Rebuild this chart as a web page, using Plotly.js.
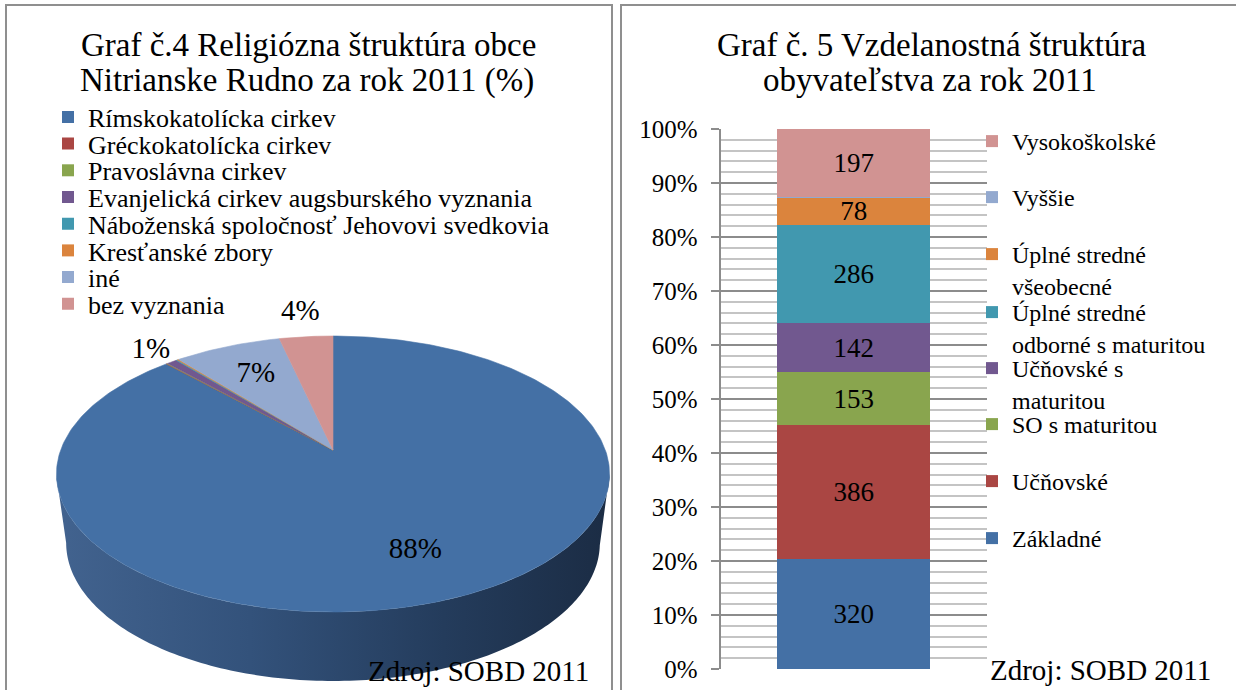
<!DOCTYPE html>
<html><head><meta charset="utf-8">
<script src="https://cdn.plot.ly/plotly-3.0.1.min.js"></script>
<style>
html,body{margin:0;padding:0;background:#fff;overflow:hidden}
#wrap{position:relative;width:1236px;height:690px}
#chart{width:1236px;height:690px}
.frame{position:absolute;box-sizing:border-box;border:2px solid #8f8f8f;border-bottom:none;pointer-events:none}
#frameL{left:5px;top:4px;width:608px;height:686px}
#frameR{left:620px;top:4px;width:616px;height:686px;border-right:none}
</style>
</head><body><div id="wrap"><div id="chart"></div><div class="frame" id="frameL"></div><div class="frame" id="frameR"></div></div>
<script>
// ---------- DATA: Graf č.4 (religious structure, %) ----------
const religionLabels = ['Rímskokatolícka cirkev', 'Gréckokatolícka cirkev', 'Pravoslávna cirkev',
  'Evanjelická cirkev augsburského vyznania', 'Náboženská spoločnosť Jehovovi svedkovia',
  'Kresťanské zbory', 'iné', 'bez vyznania'];
const religionShares = [87.9, 0.05, 0.05, 0.7, 0.1, 0.1, 7.4, 3.7];

// ---------- DATA: Graf č.5 (education structure, persons) ----------
const eduLabels = ['Základné', 'Učňovské', 'SO s maturitou', 'Učňovské s<br>maturitou',
  'Úplné stredné<br>odborné s maturitou', 'Úplné stredné<br>všeobecné', 'Vyššie', 'Vysokoškolské'];
const eduCounts = [320, 386, 153, 142, 286, 78, 2, 197];
const eduLabelShown = [true, true, true, true, true, true, false, true];
const pctTicks = [0, 10, 20, 30, 40, 50, 60, 70, 80, 90, 100];

// ---------- STYLE ----------
const W = 1236, H = 690;
const SERIF = 'Liberation Serif';
const palette = ['#4470A5', '#AA4643', '#89A54E', '#71588F', '#4198AF', '#DB843D', '#93A9CF', '#D19392'];
const PIE = {cx: 333, cy: 450, a: 272.3, b: 133.8, k: 0.174, depth: 69, bottomScale: 0.965};
const pieLabelRadius = [0.72, 1.2, 1.2, 1.15, 1.2, 1.2, 0.7, 1.26];
const leftLegendY = [116.5, 143.2, 169.9, 196.6, 223.3, 250, 276.7, 303.4];  // by religion index
const rightLegendY = [538, 481, 424, 368, 312, 254, 197, 141];               // by education index
const px = v => v / W, py = v => 1 - v / H;

function proj(thetaDeg, r, face) {
  const t = thetaDeg * Math.PI / 180;
  const u = r * Math.sin(t), v = r * Math.cos(t), w = 1 + PIE.k * v;
  let x = PIE.cx + PIE.a * u / w, y = PIE.cy - PIE.b * v / w;
  if (face === 'bottom') { x = PIE.cx + (x - PIE.cx) * PIE.bottomScale; y += PIE.depth; }
  return [x, y];
}

const traces = [];

// side band of the 3D pie (front half)
(function () {
  const th0 = Math.acos(-PIE.k) * 180 / Math.PI, th1 = 360 - th0;
  const xs = [], ys = [];
  for (let t = th0; t <= th1 + 1e-9; t += 1) { const p = proj(t, 1, 'top'); xs.push(p[0]); ys.push(p[1]); }
  for (let t = th1; t >= th0 - 1e-9; t -= 1) { const p = proj(t, 1, 'bottom'); xs.push(p[0]); ys.push(p[1]); }
  traces.push({type: 'scatter', x: xs, y: ys, xaxis: 'x2', yaxis: 'y2', mode: 'none', fill: 'toself',
    fillgradient: {type: 'horizontal', colorscale: [[0, '#42638f'], [0.35, '#33527b'], [0.7, '#243c5c'], [1, '#1b2c44']]},
    hoverinfo: 'skip', showlegend: false});
})();

// top faces of slices
const shareTotal = religionShares.reduce((s, v) => s + v, 0);
const labelX = [], labelY = [], labelT = [];
let angle = 0;
religionShares.forEach((v, i) => {
  const span = v / shareTotal * 360, a0 = angle, a1 = angle + span;
  const n = Math.max(2, Math.ceil(span));
  const xs = [PIE.cx], ys = [PIE.cy];
  for (let j = 0; j <= n; j++) { const p = proj(a0 + span * j / n, 1, 'top'); xs.push(p[0]); ys.push(p[1]); }
  xs.push(PIE.cx); ys.push(PIE.cy);
  traces.push({type: 'scatter', x: xs, y: ys, xaxis: 'x2', yaxis: 'y2', mode: 'lines', fill: 'toself',
    fillcolor: palette[i], line: {color: palette[i], width: 0.6}, hoverinfo: 'skip', showlegend: false});
  const pct = Math.round(v / shareTotal * 100);
  if (pct >= 1) {
    const p = proj((a0 + a1) / 2, pieLabelRadius[i], 'top');
    labelX.push(p[0]); labelY.push(p[1]); labelT.push(pct + '%');
  }
  angle = a1;
});
traces.push({type: 'scatter', x: labelX, y: labelY, text: labelT, mode: 'text', xaxis: 'x2', yaxis: 'y2',
  textfont: {family: SERIF, size: 29, color: '#000'}, hoverinfo: 'skip', showlegend: false});

// pie legend entries
const legends = {};
religionLabels.forEach((name, i) => {
  const key = i === 0 ? 'legend' : 'legend' + (i + 1);
  traces.push({type: 'bar', x: [null], y: [null], xaxis: 'x2', yaxis: 'y2', name: name,
    marker: {color: palette[i]}, legend: key, hoverinfo: 'skip'});
  legends[key] = {x: px(48), y: py(leftLegendY[i] - 23), xanchor: 'left', yanchor: 'top',
    bgcolor: 'rgba(0,0,0,0)', borderwidth: 0, valign: 'top', font: {family: SERIF, size: 26, color: '#000'}};
});

// stacked 100% bar
eduLabels.forEach((name, i) => {
  const key = 'legend' + (9 + i);
  traces.push({type: 'bar', x: [0], y: [eduCounts[i]], width: [0.575], name: name,
    marker: {color: palette[i], line: {width: 0}},
    text: [eduLabelShown[i] ? String(eduCounts[i]) : ''], texttemplate: '%{text}',
    textposition: 'inside', insidetextanchor: 'middle', textangle: 0, constraintext: 'none',
    textfont: {family: SERIF, size: 27, color: '#000'}, insidetextfont: {family: SERIF, size: 27, color: '#000'},
    legend: key, hoverinfo: 'skip'});
  legends[key] = {x: px(972), y: py(rightLegendY[i] - 22), xanchor: 'left', yanchor: 'top',
    bgcolor: 'rgba(0,0,0,0)', borderwidth: 0, valign: 'top', font: {family: SERIF, size: 24, color: '#000'}};
});

const annTitle = (text, x, y) => ({text, x: px(x), y: py(y), xref: 'paper', yref: 'paper',
  xanchor: 'center', yanchor: 'middle', showarrow: false, font: {family: SERIF, size: 33, color: '#000'}});

const layout = Object.assign({
  width: W, height: H, margin: {l: 0, r: 0, t: 0, b: 0},
  font: {family: SERIF, size: 24, color: '#000'},
  barmode: 'stack', barnorm: 'percent', hovermode: false,
  xaxis: {domain: [px(720.7), px(987)], range: [-0.5, 0.5], visible: false},
  yaxis: {domain: [py(669), py(129)], range: [0, 100], tickvals: pctTicks, ticktext: pctTicks.map(v => v + '%'),
    tickfont: {family: SERIF, size: 25, color: '#000'}, ticks: 'outside', ticklen: 8, tickwidth: 2,
    tickcolor: '#8c8c8c', ticklabelstandoff: 8, showline: true, linecolor: '#8c8c8c', linewidth: 2,
    gridcolor: '#8c8c8c', gridwidth: 2, zeroline: false,
    minor: {dtick: 2, tick0: 0, showgrid: true, gridcolor: '#c4c4c4', gridwidth: 2, ticks: ''}},
  xaxis2: {domain: [0, px(616)], range: [0, 616], visible: false},
  yaxis2: {domain: [0, 1], range: [690, 0], visible: false},
  annotations: [
    annTitle('Graf č.4 Religiózna štruktúra obce', 308, 45),
    annTitle('Nitrianske Rudno za rok 2011 (%)', 307, 81),
    annTitle('Graf č. 5 Vzdelanostná štruktúra', 932, 45),
    annTitle('obyvateľstva za rok 2011', 930, 80),
    {text: 'Zdroj: SOBD 2011', x: px(591), y: py(671), xref: 'paper', yref: 'paper', xanchor: 'right',
      yanchor: 'middle', showarrow: false, font: {family: SERIF, size: 29, color: '#000'}},
    {text: 'Zdroj: SOBD 2011', x: px(988), y: py(670), xref: 'paper', yref: 'paper', xanchor: 'left',
      yanchor: 'middle', showarrow: false, font: {family: SERIF, size: 29, color: '#000'}}
  ]
}, legends);

Plotly.newPlot('chart', traces, layout, {displayModeBar: false, staticPlot: true}).then(() => {
  document.querySelectorAll('#chart text').forEach(el => { void getComputedStyle(el).fontFamily; });
});
</script></body></html>
